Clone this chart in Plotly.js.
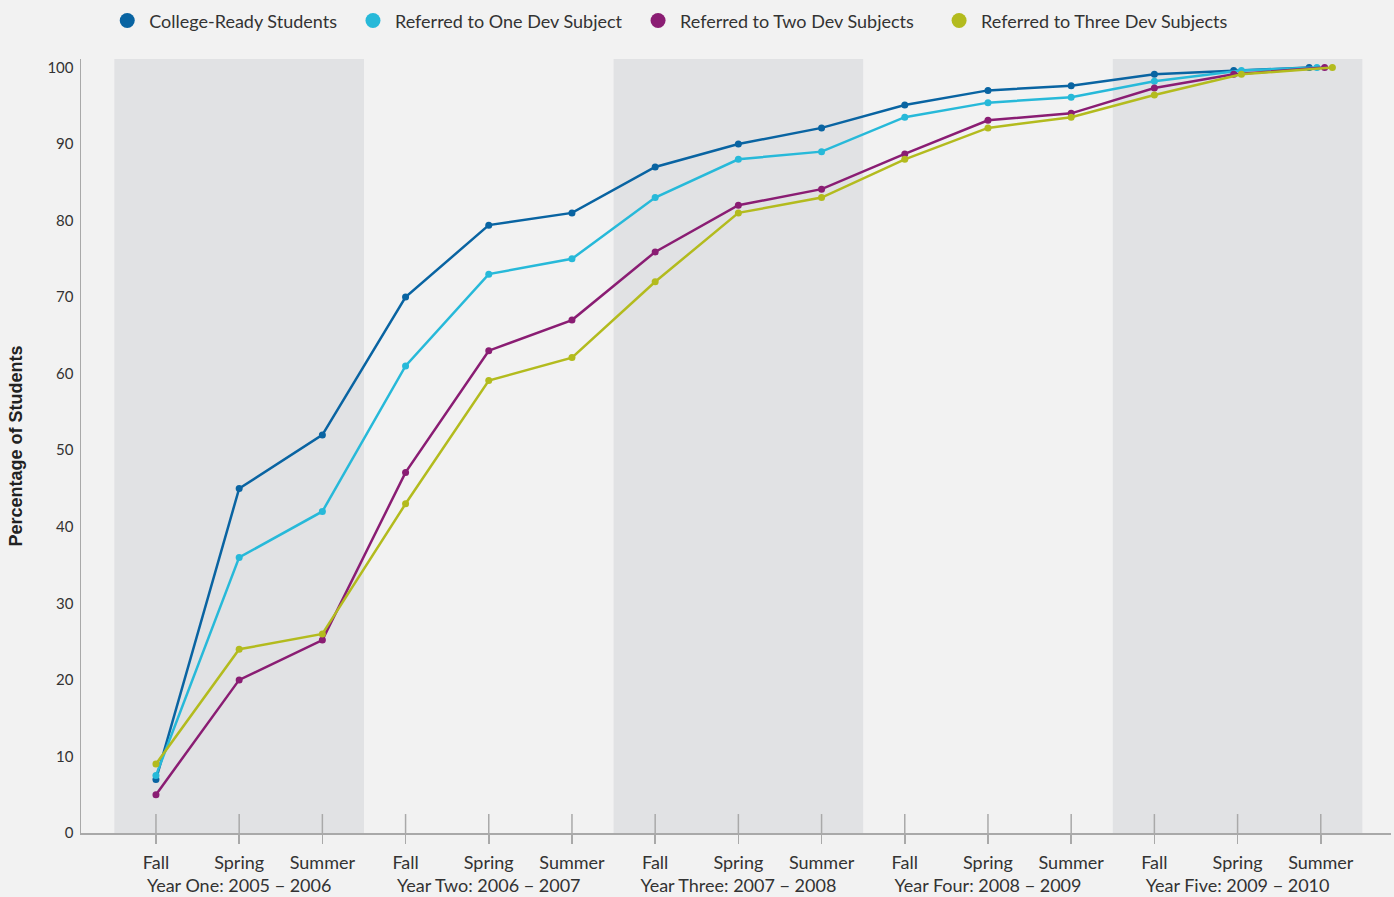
<!DOCTYPE html>
<html>
<head>
<meta charset="utf-8">
<script src="https://cdn.plot.ly/plotly-3.0.1.min.js"></script>
<style>
  html, body { margin: 0; padding: 0; background: #f2f2f2; }
  #chart { width: 1394px; height: 897px; }
</style>
</head>
<body>
<div id="chart"></div>
<script>
// ---- Data ----
const seasons = ["Fall", "Spring", "Summer"];
const years = ["Year One: 2005 \u2212 2006", "Year Two: 2006 \u2212 2007", "Year Three: 2007 \u2212 2008",
               "Year Four: 2008 \u2212 2009", "Year Five: 2009 \u2212 2010"];

const seriesNames = ["College-Ready Students", "Referred to One Dev Subject",
                     "Referred to Two Dev Subjects", "Referred to Three Dev Subjects"];

const collegeReady = [7.0, 45.0, 52.0, 70.0, 79.4, 81.0, 87.0, 90.0, 92.1, 95.1, 97.0, 97.6, 99.1, 99.6, 100];
const oneDev       = [7.5, 36.0, 42.0, 61.0, 73.0, 75.0, 83.0, 88.0, 89.0, 93.5, 95.4, 96.1, 98.2, 99.6, 100];
const twoDev       = [5.0, 20.0, 25.2, 47.1, 63.0, 67.0, 75.9, 82.0, 84.1, 88.7, 93.1, 94.0, 97.3, 99.1, 100];
const threeDev     = [9.0, 24.0, 26.0, 43.0, 59.1, 62.1, 72.0, 81.0, 83.0, 88.0, 92.1, 93.5, 96.4, 99.1, 100];

const yTicks = [0, 10, 20, 30, 40, 50, 60, 70, 80, 90, 100];

// ---- Styles ----
const colors = ["#0964a2", "#27b9d9", "#8a1d73", "#b3bb1e"];
const bandColor = "#e1e2e4";
const axisColor = "#a9a9a9";
const textColor = "#333333";
const dodgeStep = 0.093;
const legendPad = ["\u2002", "\u2002", "\u2002\u00a0\u00a0", ""];

const allSeries = [collegeReady, oneDev, twoDev, threeDev];
const nPts = collegeReady.length;

// Tick labels: season, with year label under the middle season
const tickvals = [];
const ticktext = [];
years.forEach((yr, yi) => {
  seasons.forEach((s, si) => {
    tickvals.push(yi * seasons.length + si);
    ticktext.push(si === 1 ? s + "<br>" + yr : s);
  });
});

// Dodge coincident points horizontally
const xs = allSeries.map(() => []);
for (let i = 0; i < nPts; i++) {
  const groups = {};
  allSeries.forEach((s, k) => {
    const key = s[i].toFixed(2);
    (groups[key] = groups[key] || []).push(k);
  });
  Object.values(groups).forEach(g => {
    g.forEach((k, j) => {
      xs[k][i] = i + (g.length > 1 ? (j - (g.length - 1) / 2) * dodgeStep : 0);
    });
  });
}

const traces = [];
allSeries.forEach((s, k) => {
  traces.push({
    type: "scatter", mode: "lines+markers",
    x: xs[k], y: s, name: seriesNames[k], showlegend: false,
    line: { color: colors[k], width: 2.5 },
    marker: { color: colors[k], size: 7 },
    hoverinfo: "x+y+name"
  });
});
// legend-only dots
allSeries.forEach((s, k) => {
  traces.push({
    type: "scatter", mode: "markers",
    x: [null], y: [null], name: seriesNames[k] + legendPad[k], showlegend: true,
    marker: { color: colors[k], size: 15 }
  });
});

const shapes = [];
years.forEach((yr, yi) => {
  if (yi % 2 === 0) {
    shapes.push({
      type: "rect", layer: "below", xref: "x", yref: "paper",
      x0: yi * 3 - 0.5, x1: yi * 3 + 2.5, y0: 0, y1: 1,
      fillcolor: bandColor, line: { width: 0 }
    });
  }
});
tickvals.forEach(v => {
  shapes.push({
    type: "line", layer: "below", xref: "x", yref: "paper",
    x0: v, x1: v, y0: 0, y1: 0.0245,
    line: { color: axisColor, width: 1.5 }
  });
});

const layout = {
  width: 1394, height: 897,
  paper_bgcolor: "#f2f2f2", plot_bgcolor: "#f2f2f2",
  margin: { l: 81, r: 3, t: 58, b: 64 },
  font: { family: "Lato, 'Open Sans', sans-serif", color: textColor, size: 17 },
  showlegend: true,
  legend: {
    orientation: "h", x: 0.0185, xanchor: "left", y: 1.048, yanchor: "middle",
    font: { family: "Lato, 'Open Sans', sans-serif", size: 18, color: textColor },
    bgcolor: "rgba(0,0,0,0)", itemclick: false, traceorder: "normal", itemwidth: 34
  },
  xaxis: {
    range: [-0.901, 14.844],
    tickmode: "array", tickvals: tickvals, ticktext: ticktext, tickangle: 0,
    ticks: "outside", ticklen: 9, tickwidth: 1.5, tickcolor: axisColor,
    ticklabelstandoff: 3,
    showline: true, linecolor: axisColor, linewidth: 2,
    showgrid: false, zeroline: false,
    tickfont: { family: "Lato, 'Open Sans', sans-serif", size: 18, color: textColor }
  },
  yaxis: {
    range: [0, 101.1],
    tickmode: "array", tickvals: yTicks,
    ticks: "outside", ticklen: 3, tickcolor: "rgba(0,0,0,0)",
    showline: true, linecolor: axisColor, linewidth: 1.5,
    showgrid: false, zeroline: false,
    tickfont: { family: "Lato, sans-serif", size: 15, color: textColor },
    title: {
      text: "Percentage of Students", standoff: 20,
      font: { family: "'Liberation Sans', Arial, sans-serif", size: 18, color: "#222", weight: "bold" }
    }
  },
  shapes: shapes
};

Plotly.newPlot("chart", traces, layout, { displayModeBar: false, staticPlot: true });
</script>
</body>
</html>
